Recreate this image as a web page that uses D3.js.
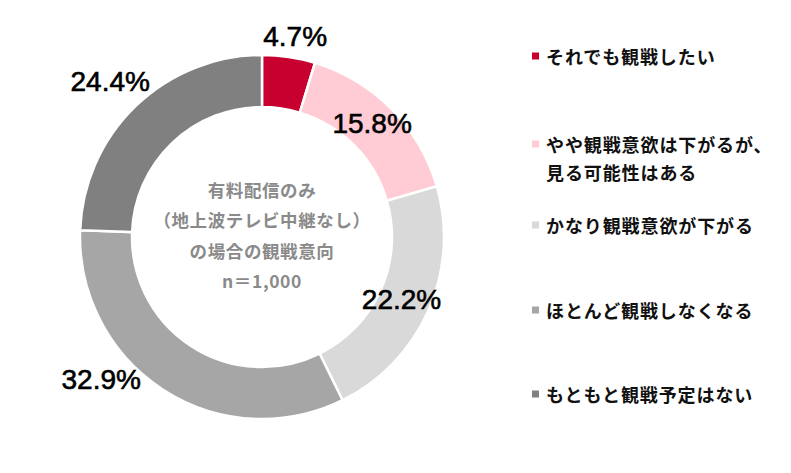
<!DOCTYPE html>
<html><head><meta charset="utf-8">
<script src="https://cdn.jsdelivr.net/npm/d3@7"></script>
<style>html,body{margin:0;padding:0;background:#fff;}</style>
</head><body>
<svg id="c" width="791" height="473"></svg>
<script>
const categories = ["それでも観戦したい", "やや観戦意欲は下がるが、\n見る可能性はある", "かなり観戦意欲が下がる", "ほとんど観戦しなくなる", "もともと観戦予定はない"];
const values = [4.7, 15.8, 22.2, 32.9, 24.4];
const colors = ["#C8002F", "#FFCCD5", "#D9D9D9", "#A6A6A6", "#808080"];
const centerLines = ["有料配信のみ", "（地上波テレビ中継なし）", "の場合の観戦意向", "n＝1,000"];

// layout (style)
const cx = 262, cy = 237, rOuter = 182, rInner = 130;
const labelPolar = [{r: 203, a: 9.4}, {r: 158, a: 44.2}, {r: 153, a: 114.2}, {r: 215, a: 228.4}, {r: 217, a: 315.6}];
const legendY = [56, 144, 225, 310, 394];

const svg = d3.select("#c");
const g = svg.append("g").attr("transform", `translate(${cx},${cy})`);
const pie = d3.pie().sort(null).value(d => d);
const arc = d3.arc().innerRadius(rInner).outerRadius(rOuter);
const arcs = pie(values);

g.selectAll("path").data(arcs).join("path")
  .attr("d", arc)
  .attr("fill", (d, i) => colors[i])
  .attr("stroke", "#fff").attr("stroke-width", 2.5).attr("stroke-linejoin", "miter");

g.selectAll("text.lbl").data(arcs).join("text").attr("class", "lbl")
  .attr("x", (d, i) => labelPolar[i].r * Math.sin(labelPolar[i].a * Math.PI / 180))
  .attr("y", (d, i) => -labelPolar[i].r * Math.cos(labelPolar[i].a * Math.PI / 180))
  .attr("text-anchor", "middle").attr("dominant-baseline", "central")
  .attr("font-family", "Liberation Sans, Arial, sans-serif").attr("font-size", 28)
  .attr("fill", "#000").attr("stroke", "#000").attr("stroke-width", 0.6)
  .text(d => d.data.toFixed(1) + "%");

g.selectAll("text.ctr").data(centerLines).join("text").attr("class", "ctr")
  .attr("x", 0).attr("y", (d, i) => -48 + i * 30.5)
  .attr("text-anchor", "middle").attr("dominant-baseline", "central")
  .attr("font-family", "Noto Sans CJK JP, sans-serif").attr("font-weight", "bold")
  .attr("font-size", 17.5).attr("letter-spacing", 0.6).attr("fill", "#8A8A8A")
  .text(d => d);

const lg = svg.append("g");
categories.forEach((c, i) => {
  lg.append("rect").attr("x", 532).attr("y", legendY[i] - 3.5).attr("width", 7).attr("height", 7).attr("fill", colors[i]);
  const t = lg.append("text").attr("x", 546).attr("y", legendY[i])
    .attr("font-family", "Noto Sans CJK JP, sans-serif").attr("font-weight", "bold")
    .attr("font-size", 18).attr("letter-spacing", 0.9).attr("fill", "#111").attr("dominant-baseline", "central");
  c.split("\n").forEach((line, j) => {
    t.append("tspan").attr("x", 546).attr("dy", j === 0 ? 0 : 28).text(line);
  });
});
</script>
</body></html>
